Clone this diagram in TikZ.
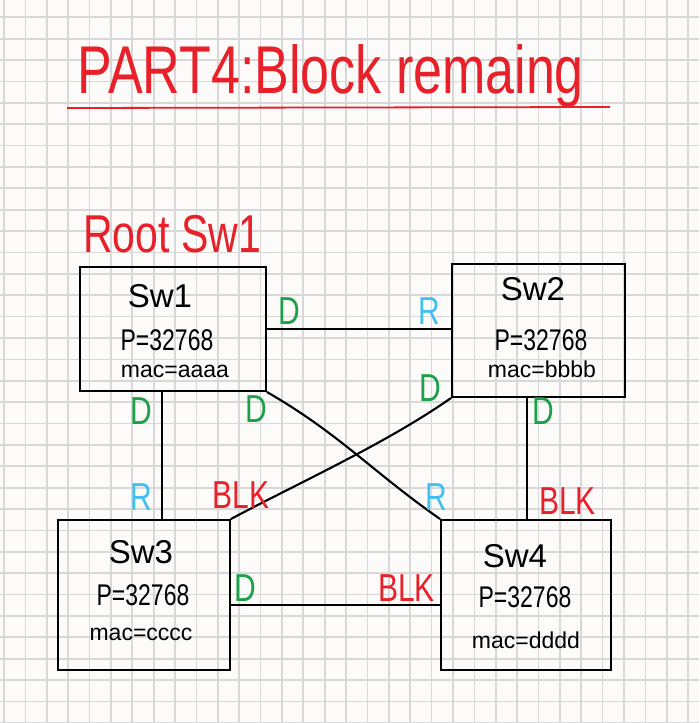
\documentclass[tikz,border=0pt]{standalone}
\usepackage{fontspec}
\setmainfont{Liberation Sans}
\usetikzlibrary{positioning}
\definecolor{paper}{RGB}{252,251,249}
\definecolor{gridgray}{RGB}{216,216,216}
\definecolor{penred}{RGB}{232,32,42}
\definecolor{pengreen}{RGB}{28,160,72}
\definecolor{penblue}{RGB}{64,192,240}
\newcommand\hw[1]{\scalebox{1}[1.3]{#1}}
\newcommand\fsz[1]{\fontsize{#1}{#1}\selectfont}
\tikzset
  {
    gridline/.style={gridgray, line width=1.7pt},
    switch/.style=
      {
        draw,
        rectangle,
        line width=2.2pt,
        inner sep=0pt,
      },
    link/.style={line width=2.1pt, line cap=round},
    swname/.style={anchor=base, inner sep=0pt, font=\fsz{33}},
    swprio/.style={anchor=base, inner sep=0pt, font=\fsz{23}},
    swmac/.style={anchor=base, inner sep=0pt, font=\fsz{23}},
    port/.style={inner sep=0pt, font=\fsz{30}},
    desig/.style={port, pengreen},
    rootport/.style={port, penblue},
    blocked/.style={port, penred},
    heading/.style={anchor=base west, inner sep=0pt, penred},
  }
\begin{document}
\begin{tikzpicture}[x=1pt, y=-1pt]
  \useasboundingbox (0,0) rectangle (699,723);
  \fill[paper] (0,0) rectangle (699,723);
  \foreach \i in {0,...,32}
    \draw[gridline] ({4+21.38*\i},0) -- ({4+21.38*\i},723);
  \foreach \j in {0,...,33}
    \draw[gridline] (0,{17.3+21.38*\j}) -- (699,{17.3+21.38*\j});

  % headings
  \node[heading, font=\fsz{52}] (title) at (77,93) {\hw{PART4:Block remaing}};
  \draw[penred, line width=1.8pt]
    ([xshift=-10pt, yshift=-15pt]title.base west) --
    ([xshift=26pt, yshift=-14pt]title.base east);
  \node[heading, font=\fsz{41}] (root) at (83,252) {\hw{Root Sw1}};

  % switches
  \node[switch, minimum width=186, minimum height=124] (sw1) at (173,329) {};
  \node[switch, minimum width=173, minimum height=133] (sw2) at (538.5,330.5) {};
  \node[switch, minimum width=172, minimum height=150] (sw3) at (144,595) {};
  \node[switch, minimum width=170, minimum height=150] (sw4) at (526,595) {};

  \node[swname] (sw1 name) at (160,307) {Sw1};
  \node[swprio] (sw1 prio) at (167,350) {\hw{P=32768}};
  \node[swmac] (sw1 mac) at (175,377) {mac=aaaa};

  \node[swname] (sw2 name) at (533,300) {Sw2};
  \node[swprio] (sw2 prio) at (541,350) {\hw{P=32768}};
  \node[swmac] (sw2 mac) at (542,377) {mac=bbbb};

  \node[swname] (sw3 name) at (141,563) {Sw3};
  \node[swprio] (sw3 prio) at (143,605) {\hw{P=32768}};
  \node[swmac] (sw3 mac) at (141,640) {mac=cccc};

  \node[swname] (sw4 name) at (515,567) {Sw4};
  \node[swprio] (sw4 prio) at (525,607) {\hw{P=32768}};
  \node[swmac] (sw4 mac) at (526,648) {mac=dddd};

  % links
  \draw[link] (sw1.east) --
    node[desig, pos=.12, above=3pt] (d12) {\hw{D}}
    node[rootport, pos=.88, above=3pt] (r21) {\hw{R}}
    (sw1.east -| sw2.west);

  \draw[link] ([xshift=-11pt]sw1.south) --
    node[desig, pos=.15, left=9pt] (d13) {\hw{D}}
    node[rootport, pos=.83, left=9pt] (r31) {\hw{R}}
    ([xshift=-11pt]sw1.south |- sw3.north);

  \draw[link] ([xshift=-11.5pt]sw2.south) --
    node[desig, pos=.11, right=4pt] (d24) {\hw{D}}
    node[blocked, pos=.85, right=11pt] (b42) {\hw{BLK}}
    ([xshift=-11.5pt]sw2.south |- sw4.north);

  \draw[link] ([yshift=-10pt]sw3.east) --
    node[desig, pos=.07, above=2pt] (d34) {\hw{D}}
    node[blocked, pos=.84, above=2pt] (b43) {\hw{BLK}}
    ([yshift=-10pt]sw3.east -| sw4.west);

  \draw[link] (sw1.south east) to[out=-30, in=145] (sw4.north west);
  \node[desig] (d14) at (256,409) {\hw{D}};
  \node[rootport] (r41) at (436,497) {\hw{R}};

  \draw[link] (sw2.south west) to[out=-145, in=28, looseness=.8] (sw3.north east);
  \node[desig] (d23) at (430,388) {\hw{D}};
  \node[blocked] (b32) at (241,495) {\hw{BLK}};
\end{tikzpicture}
\end{document}
